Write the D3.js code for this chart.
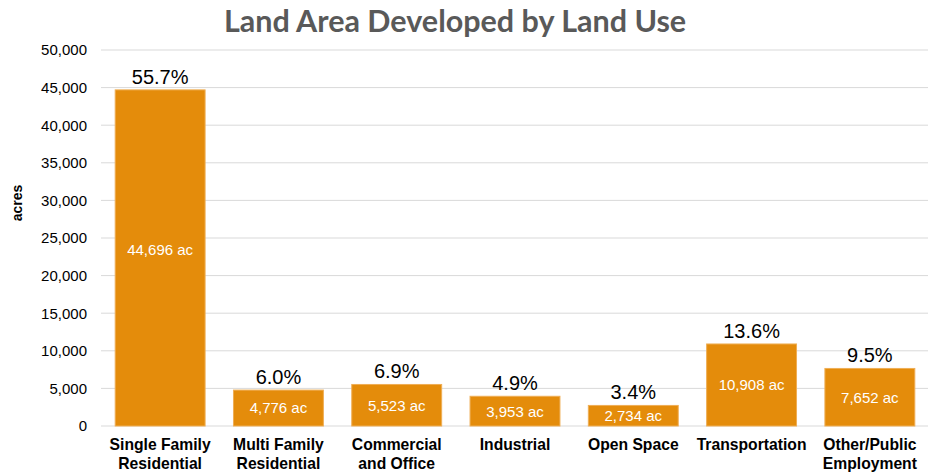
<!DOCTYPE html>
<html>
<head>
<meta charset="utf-8">
<script src="https://cdn.jsdelivr.net/npm/d3@7"></script>
<style>
  body { margin: 0; background: #fff; }
  svg text { font-family: Arial, "Liberation Sans", sans-serif; }
</style>
</head>
<body>
<svg id="chart" width="928" height="472"></svg>
<script>
"use strict";

var categories = [
    ["Single Family", "Residential"],
    ["Multi Family", "Residential"],
    ["Commercial", "and Office"],
    ["Industrial"],
    ["Open Space"],
    ["Transportation"],
    ["Other/Public", "Employment"]
];
var acres = [44696, 4776, 5523, 3953, 2734, 10908, 7652];
var shares = ["55.7%", "6.0%", "6.9%", "4.9%", "3.4%", "13.6%", "9.5%"];
var yTicks = [0, 5000, 10000, 15000, 20000, 25000, 30000, 35000, 40000, 45000, 50000];

var specs = { left: 101, right: 929, top: 50, bottom: 426 };

var svg = d3.select("#chart");

var x = d3.scaleBand()
    .domain(d3.range(categories.length))
    .range([specs.left, specs.right])
    .paddingInner(0.24)
    .paddingOuter(0.12);

var y = d3.scaleLinear()
    .domain([0, 50000])
    .range([specs.bottom, specs.top]);

// gridlines
svg.append("g")
    .selectAll("line")
    .data(yTicks)
    .enter()
    .append("line")
    .attr("x1", specs.left)
    .attr("x2", 928)
    .attr("y1", function(d) { return y(d); })
    .attr("y2", function(d) { return y(d); })
    .attr("stroke", "#d9d9d9")
    .attr("stroke-width", 1);

// y axis labels
var yAxis = d3.axisLeft(y)
    .tickValues(yTicks)
    .tickFormat(d3.format(","))
    .tickSize(0)
    .tickPadding(14);

var ya = svg.append("g")
    .attr("transform", "translate(" + specs.left + ",0)")
    .call(yAxis);
ya.select(".domain").remove();
ya.selectAll("text")
    .style("font-size", "15px")
    .style("font-family", "Arial, 'Liberation Sans', sans-serif")
    .attr("fill", "#000");

// axis title
svg.append("text")
    .attr("transform", "translate(22,203) rotate(-90)")
    .attr("text-anchor", "middle")
    .style("font-size", "14px")
    .style("font-weight", "bold")
    .text("acres");

// bars
var bars = svg.append("g")
    .selectAll("g")
    .data(acres)
    .enter()
    .append("g");

bars.append("rect")
    .attr("x", function(d, i) { return x(i); })
    .attr("y", function(d) { return y(d); })
    .attr("width", x.bandwidth())
    .attr("height", function(d) { return y(0) - y(d); })
    .attr("fill", "#e48c0b")
    .attr("stroke", "#efae55")
    .attr("stroke-width", 1);

// value inside bars (tall bar label sits a bit above the middle)
bars.append("text")
    .attr("x", function(d, i) { return x(i) + x.bandwidth() / 2; })
    .attr("y", function(d) {
        var mid = (y(d) + y(0)) / 2;
        return d > 30000 ? mid - 8 : mid;
    })
    .attr("dy", "0.36em")
    .attr("text-anchor", "middle")
    .attr("fill", "#fff")
    .style("font-size", "15px")
    .text(function(d) { return d3.format(",")(d) + " ac"; });

// share above bars
bars.append("text")
    .attr("x", function(d, i) { return x(i) + x.bandwidth() / 2; })
    .attr("y", function(d) { return y(d) - 6; })
    .attr("text-anchor", "middle")
    .attr("fill", "#000")
    .style("font-size", "20px")
    .text(function(d, i) { return shares[i]; });

// category labels
var cats = svg.append("g")
    .selectAll("text")
    .data(categories)
    .enter()
    .append("text")
    .attr("x", function(d, i) { return x(i) + x.bandwidth() / 2; })
    .attr("y", 450)
    .attr("text-anchor", "middle")
    .style("font-size", "15.7px")
    .style("font-weight", "bold");

cats.selectAll("tspan")
    .data(function(d) { return d; })
    .enter()
    .append("tspan")
    .attr("x", function() { return d3.select(this.parentNode).attr("x"); })
    .attr("dy", function(d, j) { return j === 0 ? 0 : "1.2em"; })
    .text(function(d) { return d; });

// title
svg.append("text")
    .attr("x", 455)
    .attr("y", 32)
    .attr("text-anchor", "middle")
    .attr("fill", "#595959")
    .style("font-family", "Lato, 'Open Sans', sans-serif")
    .style("font-size", "30.5px")
    .style("font-weight", "bold")
    .text("Land Area Developed by Land Use");
</script>
</body>
</html>
